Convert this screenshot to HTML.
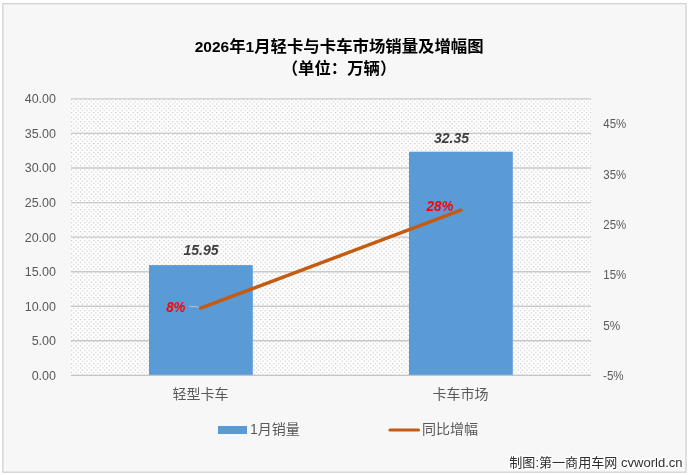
<!DOCTYPE html>
<html><head><meta charset="utf-8">
<style>
html,body{margin:0;padding:0;background:#fff;}
body{width:688px;height:475px;overflow:hidden;position:relative;}
svg{display:block;position:absolute;left:0;top:0;will-change:transform;}
.cjk{font-family:"Liberation Sans","Noto Sans CJK SC",sans-serif;}
.lat{font-family:"Liberation Sans",sans-serif;}
</style></head>
<body>
<svg width="688" height="475" viewBox="0 0 688 475">
<defs>
<pattern id="dots" x="71" y="99" width="4.4" height="4.4" patternUnits="userSpaceOnUse">
<rect x="0" y="0" width="4.4" height="4.4" fill="#ffffff"/>
<rect x="0" y="0" width="1.2" height="1.1" fill="#c2c2c2"/>
<rect x="2.2" y="2.2" width="1.2" height="1.1" fill="#c2c2c2"/>
</pattern>
</defs>
<!-- chart area -->
<rect x="2.8" y="3.7" width="683.2" height="468.5" fill="#f7f7f7" stroke="#d2d2d2" stroke-width="1.3"/>
<!-- title -->
<text x="194.7" y="52.4" class="cjk" font-size="16.4" font-weight="bold" fill="#000"><tspan font-weight="bold" class="lat" font-size="15.5" dy="-0.8">2026</tspan><tspan dy="0.8">年</tspan><tspan font-weight="bold" class="lat" font-size="15.5" dy="-0.8">1</tspan><tspan dy="0.8">月轻卡与卡车市场销量及增幅图</tspan></text>
<text x="339" y="74.4" text-anchor="middle" class="cjk" font-size="16.4" font-weight="bold" fill="#000">（单位：万辆）</text>
<!-- plot area -->
<rect x="71" y="98.5" width="520" height="276.5" fill="url(#dots)"/>
<!-- gridlines -->
<g stroke="#cacaca" stroke-width="1.4">
<line x1="71" x2="591" y1="98.85" y2="98.85"/>
<line x1="71" x2="591" y1="133.4" y2="133.4"/>
<line x1="71" x2="591" y1="168" y2="168"/>
<line x1="71" x2="591" y1="202.6" y2="202.6"/>
<line x1="71" x2="591" y1="237.1" y2="237.1"/>
<line x1="71" x2="591" y1="271.7" y2="271.7"/>
<line x1="71" x2="591" y1="306.3" y2="306.3"/>
<line x1="71" x2="591" y1="340.8" y2="340.8"/>
</g>
<!-- bars -->
<rect x="149" y="265.1" width="103.8" height="110" fill="#5b9bd5"/>
<rect x="409" y="151.7" width="103.8" height="223.4" fill="#5b9bd5"/>
<line x1="71" x2="591" y1="375.4" y2="375.4" stroke="#c4c4c4" stroke-width="1.4"/>
<!-- line -->
<polyline points="189,306.6 197,306.6 200,308.3" fill="none" stroke="#bfbfbf" stroke-width="1"/>
<polyline points="200.5,308.2 461,210.2" fill="none" stroke="#c55a11" stroke-width="3.4" stroke-linecap="round"/>
<!-- data labels -->
<g class="lat" font-weight="bold" font-style="italic" font-size="14" text-anchor="middle">
<text x="201" y="255" fill="#404040">15.95</text>
<text x="451.5" y="142.5" fill="#404040">32.35</text>
<text x="175.8" y="312.3" textLength="19.2" lengthAdjust="spacingAndGlyphs" fill="#ff0000" transform="translate(0,312.3) scale(1,1.1) translate(0,-312.3)">8%</text>
<text x="440" y="211.1" textLength="26.8" lengthAdjust="spacingAndGlyphs" fill="#ff0000" transform="translate(0,211.1) scale(1,1.1) translate(0,-211.1)">28%</text>
</g>
<!-- left axis labels -->
<g class="lat" font-size="12.5" fill="#595959" text-anchor="end">
<text x="56" y="103.3">40.00</text>
<text x="56" y="137.8">35.00</text>
<text x="56" y="172.4">30.00</text>
<text x="56" y="206.9">25.00</text>
<text x="56" y="241.5">20.00</text>
<text x="56" y="276.1">15.00</text>
<text x="56" y="310.6">10.00</text>
<text x="56" y="345.2">5.00</text>
<text x="56" y="379.7">0.00</text>
</g>
<!-- right axis labels -->
<g class="lat" font-size="12.5" fill="#595959" text-anchor="start">
<text x="603.3" y="127.9" textLength="22.9" lengthAdjust="spacingAndGlyphs">45%</text>
<text x="603.3" y="178.5" textLength="22.9" lengthAdjust="spacingAndGlyphs">35%</text>
<text x="603.3" y="229" textLength="22.9" lengthAdjust="spacingAndGlyphs">25%</text>
<text x="603.3" y="279.3" textLength="22.9" lengthAdjust="spacingAndGlyphs">15%</text>
<text x="603.3" y="329.7" textLength="17" lengthAdjust="spacingAndGlyphs">5%</text>
<text x="603" y="380.4" textLength="20.7" lengthAdjust="spacingAndGlyphs">-5%</text>
</g>
<!-- category labels -->
<g class="cjk" font-size="14" fill="#595959" text-anchor="middle">
<text x="200.5" y="399">轻型卡车</text>
<text x="460.5" y="399">卡车市场</text>
</g>
<!-- legend -->
<rect x="218" y="426" width="29" height="8" fill="#5b9bd5"/>
<text x="250" y="434" class="cjk" font-size="14" fill="#595959">1月销量</text>
<line x1="390" y1="430" x2="418.5" y2="430" stroke="#c55a11" stroke-width="3.2" stroke-linecap="round"/>
<text x="422" y="434" class="cjk" font-size="14" fill="#595959">同比增幅</text>
<!-- watermark -->
<text x="509.3" y="467" class="cjk" font-size="13.05" fill="#2e2e2e" stroke="#fff" stroke-width="2.5" stroke-linejoin="round" paint-order="stroke">制图:第一商用车网 cvworld.cn</text>
</svg>
</body></html>
